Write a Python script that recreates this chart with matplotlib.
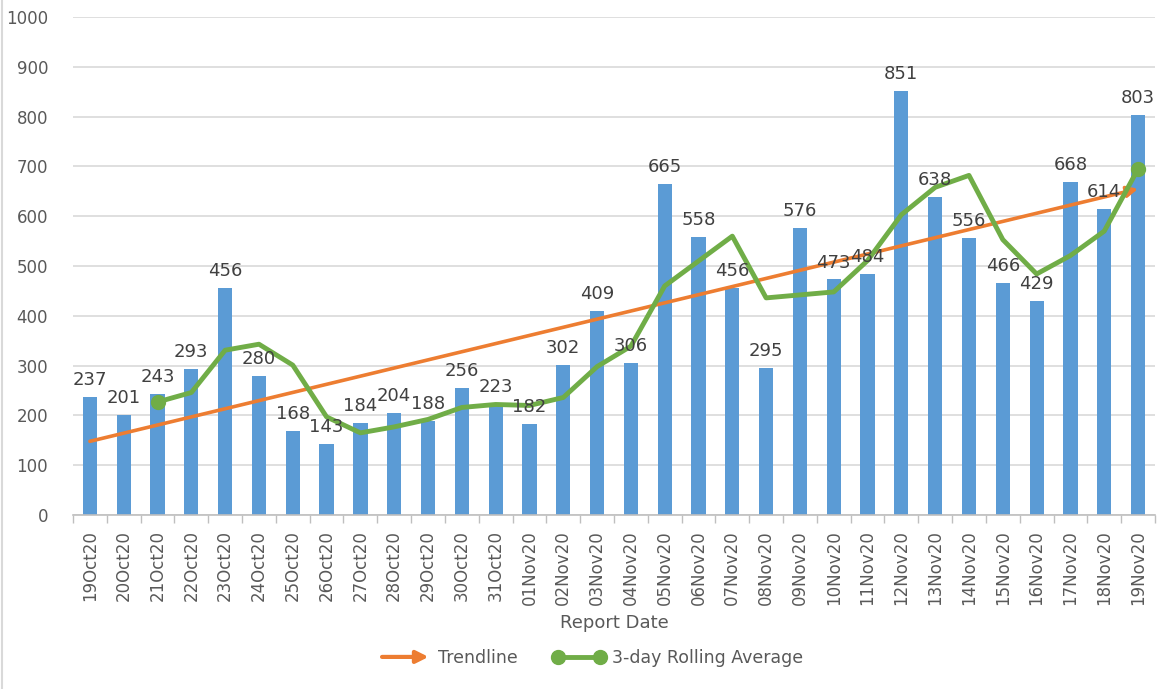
import matplotlib
matplotlib.use("Agg")
import matplotlib.pyplot as plt
from matplotlib.lines import Line2D
from matplotlib.patches import FancyArrowPatch
from matplotlib.legend_handler import HandlerPatch

# Daily counts per report date
dates = ["19Oct20", "20Oct20", "21Oct20", "22Oct20", "23Oct20", "24Oct20", "25Oct20",
         "26Oct20", "27Oct20", "28Oct20", "29Oct20", "30Oct20", "31Oct20",
         "01Nov20", "02Nov20", "03Nov20", "04Nov20", "05Nov20", "06Nov20", "07Nov20",
         "08Nov20", "09Nov20", "10Nov20", "11Nov20", "12Nov20", "13Nov20", "14Nov20",
         "15Nov20", "16Nov20", "17Nov20", "18Nov20", "19Nov20"]
counts = [237, 201, 243, 293, 456, 280, 168, 143, 184, 204, 188, 256, 223,
          182, 302, 409, 306, 665, 558, 456, 295, 576, 473, 484, 851, 638, 556,
          466, 429, 668, 614, 803]

# 3-day rolling average (starts at 21Oct20)
rolling = [227, 246, 331, 343, 301, 197, 165, 177, 192, 216, 222,
           220, 236, 298, 339, 460, 510, 560, 436, 442, 448, 511, 603,
           658, 682, 553, 484, 521, 570, 695]

# Trendline end values (first and last date)
trend = [148, 655]

bar_color = "#5b9bd5"
orange = "#ed7d31"
green = "#70ad47"
text_gray = "#595959"

fig = plt.figure(figsize=(11.59, 6.89), dpi=100)
ax = fig.add_axes([0.063, 0.2525, 0.9335, 0.7228])

x = list(range(len(dates)))
ax.bar(x, counts, width=0.42, color=bar_color, zorder=2)

for xi, v in zip(x, counts):
    ax.text(xi, v + 16, str(v), ha="center", va="bottom", fontsize=13,
            color="#404040", zorder=5)

# trendline with arrow at the end
ax.annotate("", xy=(x[-1], trend[1]), xytext=(x[0], trend[0]),
            arrowprops=dict(arrowstyle="-|>", color=orange, lw=2.6,
                            mutation_scale=16, shrinkA=0, shrinkB=0), zorder=3)

rx = x[2:]
ax.plot(rx, rolling, color=green, lw=3.5, solid_joinstyle="round",
        marker="o", markersize=10, markevery=[0, len(rolling) - 1], zorder=4)

ax.set_xlim(-0.5, len(dates) - 0.5)
ax.set_ylim(0, 1000)
ax.set_yticks(range(0, 1001, 100))
ax.yaxis.grid(True, color="#d9d9d9", lw=1.2, zorder=0)
ax.set_axisbelow(True)

ax.set_xticks(x)
ax.set_xticklabels(dates, rotation=90, fontsize=12, color=text_gray)
ax.set_xticks([i - 0.5 for i in range(len(dates) + 1)], minor=True)
ax.tick_params(axis="x", which="major", length=0, pad=11)
ax.tick_params(axis="x", which="minor", length=6, color="#bfbfbf", width=1)
ax.tick_params(axis="y", length=0, labelsize=12, labelcolor=text_gray, pad=18)

for s in ["top", "right", "left"]:
    ax.spines[s].set_visible(False)
ax.spines["bottom"].set_color("#bfbfbf")
ax.spines["bottom"].set_linewidth(1.2)

ax.set_xlabel("Report Date", fontsize=13, color=text_gray, labelpad=6)

# chart border at the left edge
fig.add_artist(Line2D([0.002, 0.002], [0, 1], transform=fig.transFigure,
                      color="#d9d9d9", lw=1.5))


def make_arrow(legend, orig_handle, xdescent, ydescent, width, height, fontsize):
    return FancyArrowPatch((-xdescent, height / 2), (width - xdescent, height / 2),
                           arrowstyle="-|>", mutation_scale=18, lw=3,
                           color=orange)


trend_handle = FancyArrowPatch((0, 0), (1, 0), color=orange, lw=3)
roll_handle = Line2D([], [], color=green, lw=3.5, marker="o", markersize=10)

fig.legend([trend_handle, roll_handle], ["Trendline", "3-day Rolling Average"],
           handler_map={FancyArrowPatch: HandlerPatch(patch_func=make_arrow)},
           loc="center", bbox_to_anchor=(0.51, 0.045), ncol=2, frameon=False,
           fontsize=12.5, labelcolor=text_gray, numpoints=2, handlelength=3,
           handletextpad=0.4, columnspacing=2)

fig.savefig("out.png", dpi=100)
